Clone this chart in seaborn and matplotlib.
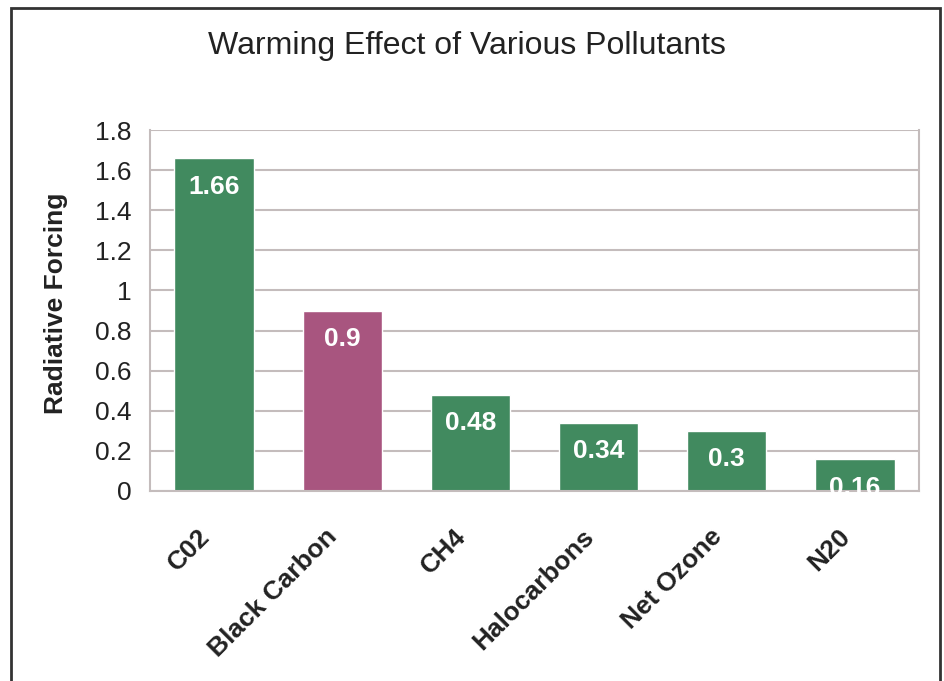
import matplotlib
matplotlib.use("Agg")
import matplotlib.pyplot as plt
import matplotlib.transforms as mtransforms
import seaborn as sns
import pandas as pd
from matplotlib.patches import Rectangle

categories = ["C02", "Black Carbon", "CH4", "Halocarbons", "Net Ozone", "N20"]
values = [1.66, 0.9, 0.48, 0.34, 0.3, 0.16]
value_labels = ["1.66", "0.9", "0.48", "0.34", "0.3", "0.16"]
yticks = [0, 0.2, 0.4, 0.6, 0.8, 1.0, 1.2, 1.4, 1.6, 1.8]
ytick_labels = ["0", "0.2", "0.4", "0.6", "0.8", "1", "1.2", "1.4", "1.6", "1.8"]

GREEN = "#418a5f"
MAGENTA = "#a8557f"
GRID = "#c4bcbc"

sns.set_style("white")
plt.rcParams["font.family"] = ["Liberation Sans", "DejaVu Sans"]

df = pd.DataFrame({"cat": categories, "val": values})
palette = {c: (MAGENTA if c == "Black Carbon" else GREEN) for c in categories}

fig = plt.figure(figsize=(9.45, 6.81), dpi=100)
ax = fig.add_axes([150/945, 1-491/681, (919-150)/945, (491-130)/681])

sns.barplot(data=df, x="cat", y="val", hue="cat", palette=palette, dodge=False,
            width=0.62, legend=False, ax=ax, saturation=1)

ax.set_ylim(0, 1.8)
ax.set_xlim(-0.5, len(categories) - 0.5)
ax.set_yticks(yticks)
ax.set_yticklabels(ytick_labels, fontsize=19, color="#222222")
ax.yaxis.grid(True, color=GRID, linewidth=1.5)
ax.set_axisbelow(True)

# x ticks: labels at centers, tick marks at boundaries
ax.set_xticks(range(len(categories)))
ax.set_xticklabels(categories, rotation=45, ha="right", rotation_mode="anchor",
                   fontsize=19, fontweight="bold", color="#222222")
ax.tick_params(axis="x", which="major", length=0, pad=24)
shift = mtransforms.ScaledTranslation(-17/100, 0, fig.dpi_scale_trans)
for lbl in ax.get_xticklabels():
    lbl.set_transform(lbl.get_transform() + shift)
ax.set_xticks([i - 0.5 for i in range(len(categories) + 1)], minor=True)
ax.tick_params(axis="x", which="minor", length=9, width=1.5, color=GRID, direction="out")
ax.tick_params(axis="y", length=9, width=1.5, color=GRID, direction="out", pad=4)

for s in ["left", "right", "bottom"]:
    ax.spines[s].set_visible(True)
    ax.spines[s].set_color(GRID)
    ax.spines[s].set_linewidth(1.5)
ax.spines["top"].set_visible(False)

ax.set_xlabel("")
ax.set_ylabel("Radiative Forcing", fontsize=19, fontweight="bold", color="#222222")
ax.yaxis.set_label_coords(-0.106, 0.52)

for p, lab in zip(ax.patches, value_labels):
    x = p.get_x() + p.get_width() / 2
    ax.annotate(lab, (x, p.get_height()), xytext=(0, -12), textcoords="offset points",
                ha="center", va="top", color="white", fontsize=19, fontweight="bold")

fig.text(467/945, 1-46/681, "Warming Effect of Various Pollutants", ha="center", va="center",
         fontsize=23, color="#222222")

fig.patches.append(Rectangle((11/945, -0.05), (940-11)/945, 1-8/681+0.05,
                             transform=fig.transFigure, fill=False,
                             edgecolor="#333333", linewidth=2))

fig.savefig("out.png", dpi=100)
